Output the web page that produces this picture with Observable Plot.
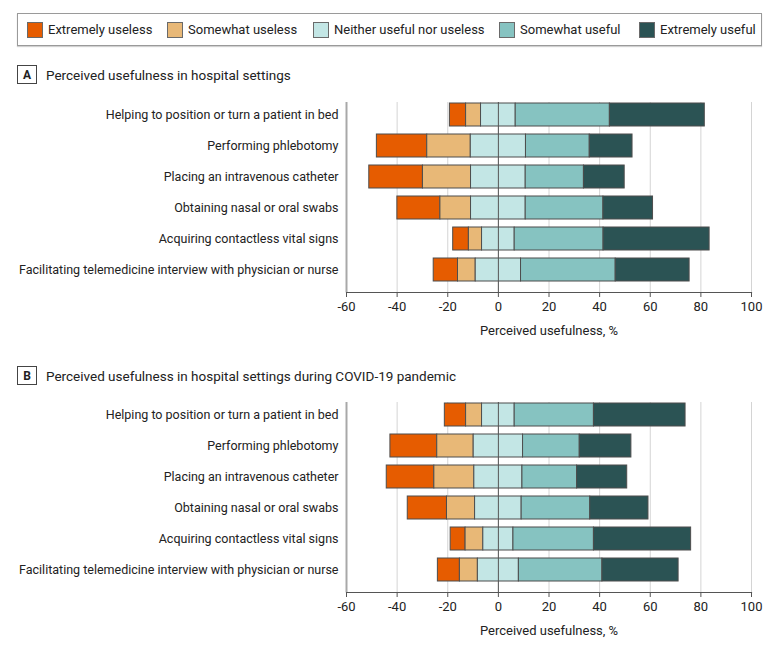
<!DOCTYPE html>
<html>
<head>
<meta charset="utf-8">
<script src="https://cdn.jsdelivr.net/npm/d3@7"></script>
<script src="https://cdn.jsdelivr.net/npm/@observablehq/plot@0.6"></script>
<style>
  html, body { margin: 0; padding: 0; background: #fff; }
  body { font-family: "Roboto", sans-serif; color: #222; }
  #root { position: relative; width: 780px; height: 647px; overflow: hidden; }
  #legend { position: absolute; left: 17px; top: 13px; width: 745px; height: 33px; box-sizing: border-box;
            border: 1px solid #9a9a9a; box-shadow: 0 1px 1px rgba(0,0,0,0.18); font-size: 13px; }
  .item { position: absolute; top: 0; height: 31px; display: flex; align-items: center; white-space: nowrap; }
  .sw { width: 14px; height: 14px; border: 1px solid #6a6a6a; margin-right: 5px; }
  .header { position: absolute; left: 17px; height: 19px; display: flex; align-items: center; font-size: 13.5px; }
  .tag { width: 18px; height: 17px; border: 1px solid #444; font-weight: bold; font-size: 12px;
         display: flex; align-items: center; justify-content: center; }
  .title { margin-left: 9px; }
  .panel { position: absolute; left: 0; }
</style>
</head>
<body>
<div id="root">
  <div id="legend"></div>
  <div class="header" style="top:65px"><div class="tag">A</div><div class="title">Perceived usefulness in hospital settings</div></div>
  <div class="panel" id="panelA" style="top:92px"></div>
  <div class="header" style="top:366px"><div class="tag">B</div><div class="title">Perceived usefulness in hospital settings during COVID-19 pandemic</div></div>
  <div class="panel" id="panelB" style="top:392px"></div>
</div>
<script>
const FONT = '"Roboto", sans-serif';

const categories = [
  "Helping to position or turn a patient in bed",
  "Performing phlebotomy",
  "Placing an intravenous catheter",
  "Obtaining nasal or oral swabs",
  "Acquiring contactless vital signs",
  "Facilitating telemedicine interview with physician or nurse"
];
const levels = ["Extremely useless", "Somewhat useless", "Neither useful nor useless", "Somewhat useful", "Extremely useful"];
const colors = ["#e65c00", "#e8b877", "#c3e6e5", "#86c3c1", "#2b5354"];
const xTicks = [-60, -40, -20, 0, 20, 40, 60, 80, 100];
const axisLabel = "Perceived usefulness, %";

// Panel A: hospital settings (% of respondents)
const hospitalExtremelyUseless = [6.4, 19.9, 21.2, 17.0, 6.2, 9.6];
const hospitalSomewhatUseless  = [5.9, 17.2, 19.0, 12.1, 5.2, 7.0];
const hospitalNeither          = [13.7, 21.8, 21.6, 21.6, 12.9, 17.9];
const hospitalSomewhatUseful   = [37.2, 25.2, 23.0, 30.7, 35.1, 37.4];
const hospitalExtremelyUseful  = [37.5, 16.9, 16.1, 19.6, 41.9, 29.2];

// Panel B: hospital settings during COVID-19 pandemic
const covidExtremelyUseless = [8.4, 18.5, 18.8, 15.5, 5.9, 8.7];
const covidSomewhatUseless  = [6.3, 14.4, 15.8, 11.1, 7.0, 7.1];
const covidNeither          = [12.9, 19.5, 19.0, 18.4, 11.9, 16.2];
const covidSomewhatUseful   = [31.3, 22.4, 21.6, 27.1, 31.8, 33.0];
const covidExtremelyUseful  = [36.2, 20.4, 19.8, 23.0, 38.4, 30.1];

// legend (item left offsets inside the box, px)
const legendOffsets = [9, 149, 295, 481, 621];
const legend = document.getElementById("legend");
levels.forEach((l, i) => {
  const it = document.createElement("div");
  it.className = "item";
  it.style.left = legendOffsets[i] + "px";
  const sw = document.createElement("div");
  sw.className = "sw";
  sw.style.background = colors[i];
  const tx = document.createElement("span");
  tx.textContent = l;
  it.appendChild(sw); it.appendChild(tx);
  legend.appendChild(it);
});

function panel(series) {
  const rows = [];
  categories.forEach((c, i) => {
    let x = -(series[0][i] + series[1][i] + series[2][i] / 2);
    levels.forEach((l, j) => {
      const v = series[j][i];
      rows.push({category: c, level: l, x1: x, x2: x + v});
      x += v;
    });
  });
  return Plot.plot({
    width: 780, height: 250,
    marginTop: 10, marginBottom: 50, marginLeft: 346, marginRight: 29,
    style: {fontFamily: FONT, fontSize: "13px", color: "#222", background: "transparent", overflow: "visible"},
    x: {domain: [-60, 100]},
    y: {domain: categories, range: [10.35, 190.35], paddingInner: 0.256, paddingOuter: 0},
    color: {domain: levels, range: colors},
    marks: [
      Plot.gridX(xTicks, {stroke: "#d4d4d4", strokeOpacity: 1}),
      Plot.barX(rows, {x1: "x1", x2: "x2", y: "category", fill: "level", stroke: "#4d4d4d", strokeWidth: 1}),
      Plot.ruleX([0], {stroke: "#555", strokeWidth: 1}),
      Plot.ruleX([-60], {stroke: "#a8a8a8", strokeWidth: 2}),
      Plot.frame({anchor: "bottom", stroke: "#555", strokeWidth: 1.2}),
      Plot.axisY({tickSize: 0, tickPadding: 8, label: null, fontSize: 12.5}),
      Plot.axisX(xTicks, {tickSize: 5, stroke: "#555", tickPadding: 4, tickFormat: d => String(d),
        label: axisLabel, labelAnchor: "center", labelArrow: "none", labelOffset: 42, fontSize: 13})
    ]
  });
}

document.getElementById("panelA").appendChild(panel([
  hospitalExtremelyUseless, hospitalSomewhatUseless, hospitalNeither, hospitalSomewhatUseful, hospitalExtremelyUseful
]));
document.getElementById("panelB").appendChild(panel([
  covidExtremelyUseless, covidSomewhatUseless, covidNeither, covidSomewhatUseful, covidExtremelyUseful
]));
</script>
</body>
</html>
